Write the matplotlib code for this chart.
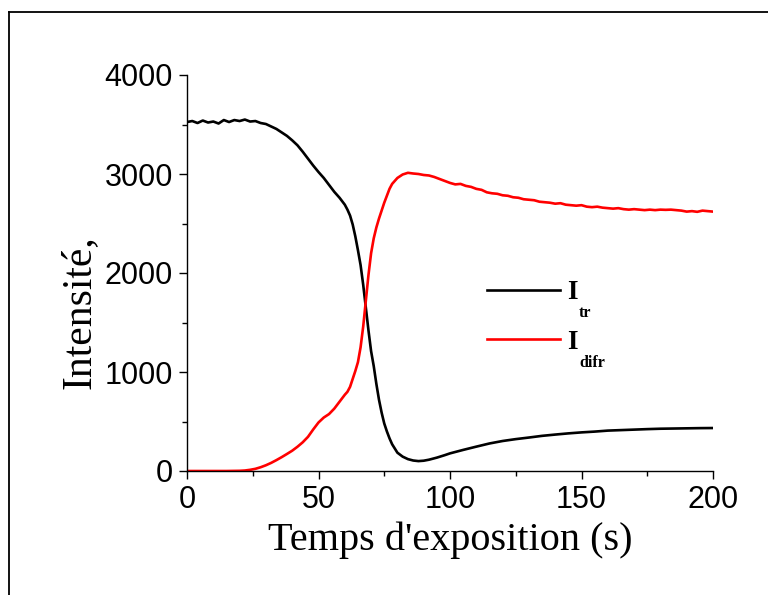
import matplotlib
matplotlib.use("Agg")
import matplotlib.pyplot as plt
from matplotlib.ticker import MultipleLocator
from matplotlib.lines import Line2D

# ---- data ----
t_tr = [0, 2, 4, 6, 8, 10, 12, 14, 16, 18, 20, 22, 24, 26, 28, 30, 32, 34, 36, 38,
        40, 42, 44, 46, 48, 50, 52, 54, 56, 58, 60, 61, 62, 63, 64, 65, 66, 67, 68,
        69, 70, 71, 72, 73, 74, 75, 76, 77, 78, 80, 82, 84, 86, 88, 90, 92, 95, 98,
        100, 105, 110, 115, 120, 125, 130, 135, 140, 145, 150, 155, 160, 165, 170,
        175, 180, 185, 190, 195, 200]
I_tr = [3525, 3535, 3515, 3540, 3520, 3530, 3510, 3545, 3525, 3545, 3535, 3550, 3530,
        3535, 3515, 3505, 3480, 3455, 3420, 3385, 3340, 3290, 3225, 3155, 3085, 3020,
        2960, 2890, 2820, 2760, 2690, 2640, 2580, 2490, 2370, 2230, 2080, 1880, 1650,
        1420, 1210, 1060, 880, 720, 590, 480, 400, 330, 270, 185, 145, 120, 106, 100,
        104, 114, 135, 160, 178, 213, 246, 278, 303, 322, 338, 355, 368, 380, 390, 398,
        408, 413, 418, 423, 427, 429, 431, 433, 434]

t_difr = [0, 5, 10, 15, 20, 22, 24, 26, 28, 30, 32, 34, 36, 38, 40, 42, 44, 46, 48,
          50, 52, 54, 56, 58, 60, 61, 62, 63, 64, 65, 66, 67, 68, 69, 70, 71, 72, 73,
          74, 75, 76, 77, 78, 80, 82, 84, 86, 88, 90, 92, 94, 96, 98, 100, 102, 104,
          106, 108, 110, 112, 114, 116, 118, 120, 122, 124, 126, 128, 130, 132, 134,
          136, 138, 140, 142, 144, 146, 148, 150, 152, 154, 156, 158, 160, 162, 164,
          166, 168, 170, 172, 174, 176, 178, 180, 182, 184, 186, 188, 190, 192, 194,
          196, 198, 200]
I_difr = [0, 0, 0, 0, 2, 5, 12, 22, 38, 58, 82, 110, 140, 172, 205, 245, 290, 345,
          420, 490, 540, 575, 630, 700, 770, 800, 850, 930, 1010, 1100, 1250, 1460,
          1720, 1980, 2200, 2350, 2460, 2550, 2630, 2710, 2780, 2850, 2900, 2960,
          2995, 3012, 3005, 3000, 2990, 2985, 2970, 2950, 2930, 2910, 2895, 2900,
          2880, 2870, 2850, 2840, 2815, 2805, 2800, 2785, 2780, 2765, 2760, 2745,
          2740, 2735, 2720, 2715, 2710, 2700, 2705, 2690, 2685, 2680, 2685, 2670,
          2665, 2670, 2660, 2655, 2650, 2655, 2645, 2640, 2645, 2640, 2635, 2640,
          2635, 2640, 2638, 2640, 2635, 2630, 2620, 2625, 2618, 2630, 2625, 2620]

xticks = [0, 50, 100, 150, 200]
yticks = [0, 1000, 2000, 3000, 4000]
leg_main = ['I', 'I']
leg_sub = ['tr', 'difr']

fig = plt.figure(figsize=(7.68, 5.95), dpi=100)
ax = fig.add_axes([187/768, 1-471/595, 526/768, 396/595])

ax.plot(t_tr, I_tr, color='black', lw=1.9, label=leg_main[0])
ax.plot(t_difr, I_difr, color='#ff0000', lw=1.9, label=leg_main[1])

ax.set_xlim(0, 200)
ax.set_ylim(0, 4000)
ax.set_xticks(xticks)
ax.set_yticks(yticks)
ax.xaxis.set_minor_locator(MultipleLocator(25))
ax.yaxis.set_minor_locator(MultipleLocator(500))
for s in ['top', 'right']:
    ax.spines[s].set_visible(False)
for s in ['left', 'bottom']:
    ax.spines[s].set_linewidth(1.0)
ax.tick_params(which='major', direction='out', length=6, width=1.0,
               labelsize=22, pad=4)
ax.tick_params(which='minor', direction='out', length=3.5, width=1.0)
for lab in ax.get_xticklabels() + ax.get_yticklabels():
    lab.set_fontfamily('Liberation Sans')

ax.set_xlabel("Temps d'exposition (s)", fontfamily='Liberation Serif', fontsize=29)
ax.set_ylabel("Intensité,", fontfamily='Liberation Serif', fontsize=30)
ax.xaxis.set_label_coords(0.5, -0.128)
ax.yaxis.set_label_coords(-0.168, 0.40)

leg = ax.legend(loc='upper left', bbox_to_anchor=(0.570, 0.482), frameon=False,
                prop={'family': 'Liberation Serif', 'weight': 'bold', 'size': 19.5},
                handlelength=2.7, handletextpad=0.27,
                labelspacing=0.91, borderpad=0, borderaxespad=0)
for txt, sub in zip(leg.get_texts(), leg_sub):
    ax.annotate(sub, xy=(1, 0), xycoords=txt, xytext=(1, -8.5), textcoords='offset points',
                ha='left', va='baseline', fontfamily='Liberation Serif',
                fontweight='bold', fontsize=11.5, zorder=10)

# figure frame (top and left edges visible)
fig.add_artist(Line2D([8.5/768, 8.5/768], [0, 1-12/595], color='black', lw=1.3,
                      transform=fig.transFigure))
fig.add_artist(Line2D([8.5/768, 1], [1-12/595, 1-12/595], color='black', lw=1.3,
                      transform=fig.transFigure))

fig.savefig('out.png', dpi=100)
